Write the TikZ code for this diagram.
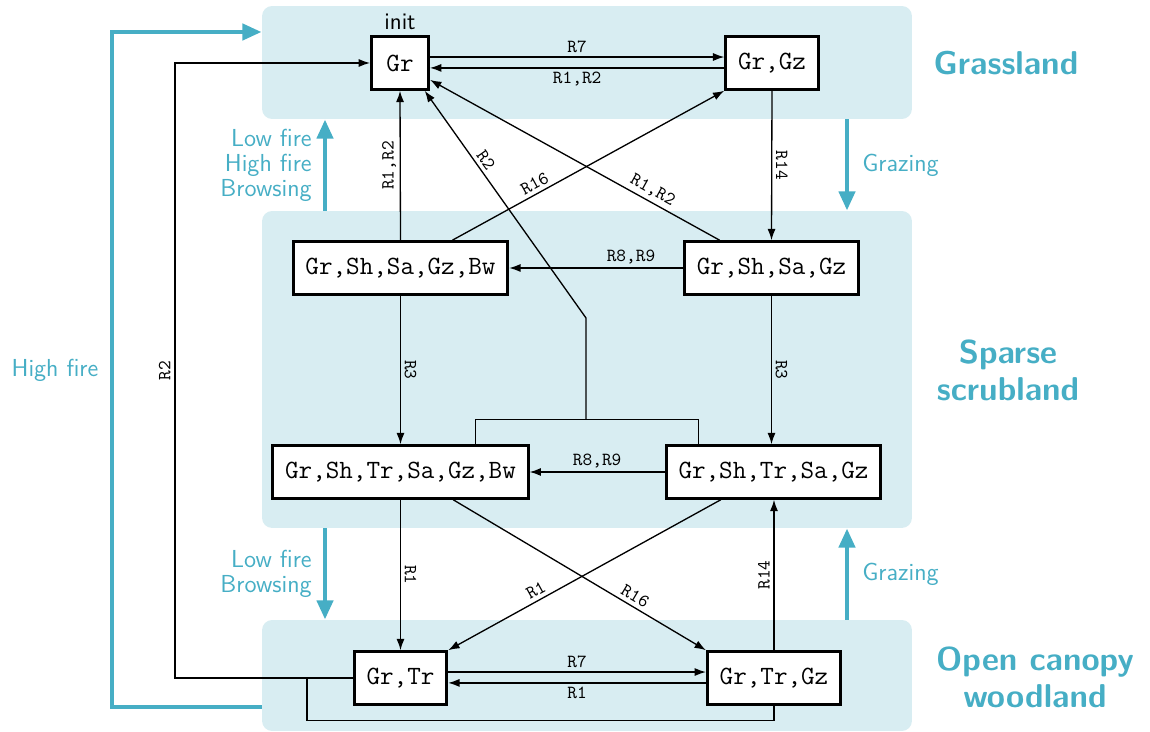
\documentclass[tikz,border=0pt]{standalone}
\usetikzlibrary{arrows.meta,calc}
\definecolor{teal1}{HTML}{46AEC5}
\definecolor{regfill}{HTML}{D8EDF2}
\tikzset{
 state/.style={draw=black, line width=1.6pt, fill=white, font=\fontsize{15}{18}\selectfont\ttfamily,
   minimum height=30pt, minimum width=32.5pt, inner xsep=7pt},
 region/.style={fill=regfill, draw=none, rounded corners=5.7pt, minimum width=13cm, inner sep=0pt},
 arr/.style={-{Latex[length=6.5pt,width=4.6pt]}, line width=0.75pt},
 ln/.style={line width=0.75pt},
 lbl/.style={font=\fontsize{10.5}{12}\selectfont\ttfamily, inner sep=2pt},
 bigarr/.style={draw=teal1, line width=2.7pt, -{Triangle[length=11pt,width=9pt]}},
 tlbl/.style={text=teal1, font=\fontsize{14}{14.2}\selectfont\sffamily, align=right, inner sep=0pt},
 rlbl/.style={text=teal1, font=\fontsize{18.8}{21}\selectfont\sffamily\bfseries, align=center},
}
\begin{document}
\begin{tikzpicture}[x=0.02cm,y=-0.02cm]
\useasboundingbox (0,0) rectangle (1150,732);
% regions
\node[region, minimum height=2.26cm] (rg) at (587,62.5) {};
\node[region, minimum height=6.34cm] (rs) at (587,369.5) {};
\node[region, minimum height=2.22cm] (ro) at (587,675.5) {};
% region labels
\node[rlbl] (lg) at (1006,63) {Grassland};
\node[rlbl] (ls) at (1008,370) {Sparse\\scrubland};
\node[rlbl] (lo) at (1035,677) {Open canopy\\woodland};
% states
\node[state] (gr) at (400,63) {Gr};
\node[state] (grgz) at (772,63) {Gr,Gz};
\node[state] (ssgb) at (400.5,268) {Gr,Sh,Sa,Gz,Bw};
\node[state] (ssg) at (771.5,268) {Gr,Sh,Sa,Gz};
\node[state] (sstb) at (400.5,472) {Gr,Sh,Tr,Sa,Gz,Bw};
\node[state] (sst) at (773.5,472) {Gr,Sh,Tr,Sa,Gz};
\node[state] (grtr) at (400.5,678) {Gr,Tr};
\node[state] (grtrgz) at (774,678) {Gr,Tr,Gz};
\node[font=\fontsize{13.5}{15}\selectfont\sffamily, anchor=south, inner sep=3pt] (init) at (gr.north) {init};
% helper coordinates
\coordinate (ja) at (586,419);
\coordinate (jb) at (586,318);
\coordinate (jc) at (307,678);
\coordinate (cl) at (325,0);
\coordinate (cr) at (847,0);
\coordinate (hf) at (112,0);
\coordinate (hy1) at (0,707);
\coordinate (hy2) at (0,32);
% grassland connectors
\draw[arr] ([yshift=3.4pt]gr.east) -- node[lbl, above]{R7} ([yshift=3.4pt]grgz.west);
\draw[arr] ([yshift=-2.8pt]grgz.west) -- node[lbl, below]{R1,R2} ([yshift=-2.8pt]gr.east);
\draw[arr] (grgz.south) -- node[lbl, midway, rotate=-90, anchor=south]{R14} (ssg.north);
\draw[arr] (ssgb.north) -- node[lbl, midway, rotate=90, anchor=south]{R1,R2} (gr.south);
\draw[arr] ([xshift=29.5pt]ssgb.north) -- node[lbl, pos=0.32, sloped, above]{R16} (grgz.south west);
\draw[arr] ([xshift=-29.5pt]ssg.north) -- node[lbl, pos=0.25, sloped, above]{R1,R2} ([yshift=-9.6pt]gr.east);
% junction R2
\draw[ln] ([xshift=42.5pt]sstb.north) -- ++(0,-25) -| ([xshift=-42.8pt]sst.north);
\draw[arr] (ja) -- (jb) -- node[lbl, pos=0.67, sloped, above]{R2} ([xshift=-3pt]gr.south east);
% sparse connectors
\draw[arr] (ssg.west) -- node[lbl, pos=0.3, above]{R8,R9} (ssgb.east);
\draw[arr] (sst.west) -- node[lbl, midway, above]{R8,R9} (sstb.east);
\draw[arr] (ssgb.south) -- node[lbl, midway, rotate=-90, anchor=south]{R3} (sstb.north -| ssgb.south);
\draw[arr] (ssg.south) -- node[lbl, midway, rotate=-90, anchor=south]{R3} (sst.north -| ssg.south);
% to woodland
\draw[arr] (sstb.south -| grtr.north) -- node[lbl, midway, rotate=-90, anchor=south]{R1} (grtr.north);
\draw[arr] (grtrgz.north) -- node[lbl, midway, rotate=90, anchor=south]{R14} (sst.south -| grtrgz.north);
\draw[arr] ([xshift=30pt]sstb.south) -- node[lbl, pos=0.7, sloped, above]{R16} (grtrgz.north west);
\draw[arr] ([xshift=-30pt]sst.south) -- node[lbl, pos=0.66, sloped, above]{R1} (grtr.north east);
% woodland connectors
\draw[arr] ([yshift=3.4pt]grtr.east) -- node[lbl, above]{R7} ([yshift=3.4pt]grtrgz.west);
\draw[arr] ([yshift=-2.8pt]grtrgz.west) -- node[lbl, below]{R1} ([yshift=-2.8pt]grtr.east);
\draw[arr] (grtr.west) -- ++(-178,0) |- node[lbl, pos=0.25, rotate=90, anchor=south]{R2} (gr.west);
\draw[ln] (grtrgz.south) -- ++(0,15) -| (jc);
% thick teal arrows
\draw[bigarr] (cl |- rs.north) -- (cl |- rg.south);
\draw[bigarr] (cr |- rg.south) -- (cr |- rs.north);
\draw[bigarr] (cl |- rs.south) -- (cl |- ro.north);
\draw[bigarr] (cr |- ro.north) -- (cr |- rs.south);
\draw[bigarr] (ro.west |- hy1) -- (hf |- hy1) |- (rg.west |- hy2);
% teal labels
\node[tlbl, anchor=east] (t1) at (312,165) {Low fire\\High fire\\Browsing};
\node[tlbl, anchor=west] (t2) at (862,165) {Grazing};
\node[tlbl, anchor=east] (t3) at (312,574) {Low fire\\Browsing};
\node[tlbl, anchor=west] (t4) at (862,574) {Grazing};
\node[tlbl] (t5) at (55,370) {High fire};
\end{tikzpicture}
\end{document}
